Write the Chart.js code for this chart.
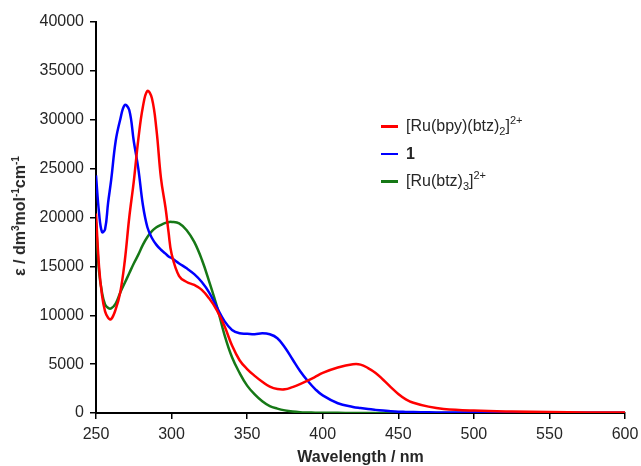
<!DOCTYPE html>
<html>
<head>
<meta charset="utf-8">
<script src="https://cdn.jsdelivr.net/npm/chart.js@4/dist/chart.umd.min.js"></script>
<style>
  html, body { margin: 0; padding: 0; background: #fff; }
  #wrap { position: relative; width: 641px; height: 466px; font-family: "Liberation Sans", Arial, sans-serif; }
  #c { position: absolute; left: 0; top: 0; }
  #ytitle { position: absolute; left: 20px; top: 216px; transform: translate(-50%, -50%) rotate(-90deg);
            white-space: nowrap; font-weight: bold; font-size: 16px; color: #262626; }
  #ytitle sup { font-size: 10px; vertical-align: 6px; line-height: 0; }
  #legend { position: absolute; left: 381px; top: 112px; font-size: 16px; color: #262626; }
  .row { position: relative; height: 27.5px; line-height: 27.5px; white-space: nowrap; }
  .sw { position: absolute; left: 0; top: 13px; width: 17px; height: 2.5px; }
  .lt { position: absolute; left: 25px; top: 0; }
  .lt sub { font-size: 11px; vertical-align: -4px; line-height: 0; }
  .lt sup { font-size: 11px; vertical-align: 7px; line-height: 0; }
</style>
</head>
<body>
<div id="wrap">
  <canvas id="c" width="641" height="466"></canvas>
  <div id="ytitle">ε / dm<sup>3</sup>mol<sup>-1</sup>cm<sup>-1</sup></div>
  <div id="legend">
    <div class="row"><span class="sw" style="background:#ff0000"></span><span class="lt">[Ru(bpy)(btz)<sub>2</sub>]<sup>2+</sup></span></div>
    <div class="row"><span class="sw" style="background:#0000ff"></span><span class="lt" style="font-weight:bold">1</span></div>
    <div class="row"><span class="sw" style="background:#167816"></span><span class="lt">[Ru(btz)<sub>3</sub>]<sup>2+</sup></span></div>
  </div>
</div>
<script>
const wavelengths = [250,252,254,256,258,260,263,266,269,272,275,278,281,284,287,290,293,296,298,300,305,310,315,320,325,330,335,340,345,350,355,360,365,370,375,380,385,390,395,400,410,420,425,430,435,440,445,450,455,460,470,480,500,525,550,575,600];
const redValues   = [20400,15000,12000,10400,9750,9600,10600,12300,15500,20000,23700,28000,31300,32950,32200,29000,24000,21000,18500,16300,14000,13400,13100,12600,11700,10500,8900,6900,5400,4500,3800,3200,2700,2450,2420,2650,2950,3300,3700,4100,4650,4980,4950,4600,4100,3400,2650,1950,1400,1050,650,420,250,150,100,60,40];
const blueValues  = [24300,20500,18500,18800,21500,23800,27800,30000,31500,31000,27800,25000,21300,19000,17900,17200,16700,16300,16000,15850,15300,14800,14200,13400,12300,10800,9400,8500,8150,8100,8050,8150,8050,7650,6700,5500,4300,3300,2450,1800,1000,620,500,400,320,250,180,130,110,90,70,60,50,40,30,30,30];
const greenValues = [19500,14500,12300,11100,10750,10700,11200,12300,13300,14300,15300,16200,17200,18000,18600,19000,19250,19450,19520,19550,19400,18700,17500,15700,13400,10900,8000,5700,4100,2800,1900,1200,700,450,270,150,80,50,30,20,15,10,10,10,10,10,10,10,10,10,10,10,10,10,10,10,10];
const xTickValues = [250,300,350,400,450,500,550,600];
const yTickValues = [0,5000,10000,15000,20000,25000,30000,35000,40000];
const seriesNames = ["[Ru(bpy)(btz)2]2+", "1", "[Ru(btz)3]2+"];

function pts(vals) { return wavelengths.map((w, i) => ({ x: w, y: vals[i] })); }

const tickColor = '#262626';
new Chart(document.getElementById('c'), {
  type: 'line',
  data: {
    datasets: [
      { label: seriesNames[0], data: pts(redValues), borderColor: '#ff0000' },
      { label: seriesNames[1], data: pts(blueValues), borderColor: '#0000ff' },
      { label: seriesNames[2], data: pts(greenValues), borderColor: '#167816' }
    ]
  },
  options: {
    responsive: false,
    animation: false,
    layout: { padding: { left: 0, right: 16, top: 22, bottom: 0 } },
    elements: {
      point: { radius: 0 },
      line: { borderWidth: 2.5, tension: 0.4, fill: false }
    },
    plugins: { legend: { display: false }, tooltip: { enabled: false } },
    scales: {
      x: {
        type: 'linear', min: 250, max: 600,
        afterBuildTicks: s => { s.ticks = xTickValues.map(v => ({ value: v })); },
        afterFit: s => { s.height = 53; s.paddingRight = 14; s.paddingLeft = 14; },
        ticks: { color: tickColor, font: { family: 'Liberation Sans', size: 16 }, padding: 6, maxRotation: 0, callback: v => String(v) },
        grid: { display: true, drawOnChartArea: false, drawTicks: true, tickLength: 6, color: '#000', lineWidth: 1.5 },
        border: { display: true, color: '#000', width: 2 },
        title: { display: true, text: 'Wavelength / nm', color: tickColor, font: { family: 'Liberation Sans', size: 16, weight: 'bold' }, padding: { top: 2, bottom: -1 } }
      },
      y: {
        min: 0, max: 40000,
        afterBuildTicks: s => { s.ticks = yTickValues.map(v => ({ value: v })); },
        afterFit: s => { s.width = 96; },
        ticks: { color: tickColor, font: { family: 'Liberation Sans', size: 16 }, padding: 6, callback: v => String(v) },
        grid: { display: true, drawOnChartArea: false, drawTicks: true, tickLength: 6, color: '#000', lineWidth: 1.5 },
        border: { display: true, color: '#000', width: 2 }
      }
    }
  }
});
</script>
</body>
</html>
